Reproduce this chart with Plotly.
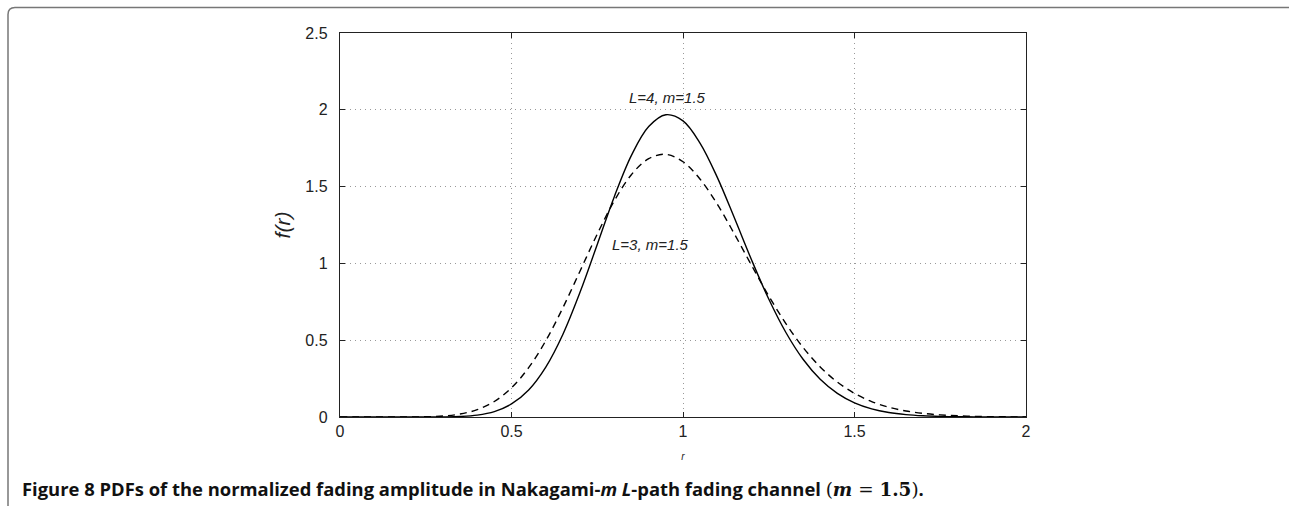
import plotly.graph_objects as go

# Values
r_vals = [0.00, 0.05, 0.10, 0.15, 0.20, 0.25, 0.30, 0.35, 0.40, 0.45, 0.50,
          0.55, 0.60, 0.65, 0.70, 0.75, 0.80, 0.85, 0.90, 0.95, 1.00,
          1.05, 1.10, 1.15, 1.20, 1.25, 1.30, 1.35, 1.40, 1.45, 1.50,
          1.55, 1.60, 1.65, 1.70, 1.75, 1.80, 1.85, 1.90, 1.95, 2.00]
f_L4 = [0.0, 0.0, 0.0, 0.0, 0.0, 0.0001, 0.0008, 0.0036, 0.0125, 0.0353, 0.0848,
        0.176, 0.325, 0.539, 0.813, 1.123, 1.436, 1.705, 1.891, 1.968, 1.928,
        1.782, 1.560, 1.295, 1.022, 0.768, 0.550, 0.376, 0.246, 0.154, 0.0922,
        0.0530, 0.0292, 0.0155, 0.0079, 0.0038, 0.0018, 0.0008, 0.0004, 0.0002, 0.0001]
f_L3 = [0.0, 0.0, 0.0, 0.0, 0.0003, 0.0017, 0.0065, 0.0194, 0.0477, 0.101, 0.190,
        0.321, 0.497, 0.712, 0.951, 1.191, 1.409, 1.579, 1.682, 1.710, 1.662,
        1.548, 1.385, 1.191, 0.987, 0.788, 0.608, 0.453, 0.326, 0.2275, 0.1536,
        0.1005, 0.0638, 0.0393, 0.0235, 0.0136, 0.0077, 0.0042, 0.0022, 0.0012, 0.0006]
x_ticks = [0, 0.5, 1, 1.5, 2]
x_tick_text = ["0", "0.5", "1", "1.5", "2"]
y_ticks = [0, 0.5, 1, 1.5, 2, 2.5]
y_tick_text = ["0", "0.5", "1", "1.5", "2", "2.5"]

W, H = 1291, 506
ML, MR, MT, MB = 340, 265, 33, 89
PW, PH = W - ML - MR, H - MT - MB

def px(x):
    return (x - ML) / PW

def py(y):
    return (H - MB - y) / PH

fig = go.Figure()
fig.add_trace(go.Scatter(x=r_vals, y=f_L4, mode="lines", line_shape="spline",
                         line=dict(color="black", width=1.4), name="L=4, m=1.5",
                         showlegend=False))
fig.add_trace(go.Scatter(x=r_vals, y=f_L3, mode="lines", line_shape="spline",
                         line=dict(color="black", width=1.4, dash="7px,5px"),
                         name="L=3, m=1.5", showlegend=False))

axis_common = dict(showline=True, linecolor="#222", linewidth=1.4, mirror="ticks",
                   ticks="inside", ticklen=5, tickcolor="#222", tickwidth=1,
                   showgrid=True, gridcolor="#999", griddash="1px,4px", gridwidth=1,
                   zeroline=False, tickfont=dict(family="Liberation Sans, Arial", size=16, color="#222"))

fig.update_xaxes(range=[0, 2], tickvals=x_ticks, ticktext=x_tick_text,
                 title=dict(text="<i>r</i>", font=dict(family="Liberation Sans", size=10, color="#222"),
                            standoff=13),
                 **axis_common)
fig.update_yaxes(range=[0, 2.5], tickvals=y_ticks, ticktext=y_tick_text,
                 ticklabelstandoff=8,
                 title=dict(text="<i>f(r)</i>", font=dict(family="Liberation Sans", size=21, color="#222"),
                            standoff=8),
                 **axis_common)

fig.add_annotation(x=0.955, y=2.0, xref="x", yref="y", text="<i>L=4, m=1.5</i>",
                   showarrow=False, yanchor="bottom", yshift=2,
                   font=dict(family="Liberation Sans", size=15, color="#222"))
fig.add_annotation(x=0.905, y=1.12, xref="x", yref="y", text="<i>L=3, m=1.5</i>",
                   showarrow=False,
                   font=dict(family="Liberation Sans", size=15, color="#222"))

caption = ("<b>Figure 8</b> <b>PDFs of the normalized fading amplitude in Nakagami-<i>m</i> "
           "<i>L</i>-path fading channel </b><span style=\"font-family:'DejaVu Serif'\">(<b><i>m</i></b> = <b>1.5</b>)</span><b>.</b>")
fig.add_annotation(x=px(20), y=py(488), xref="paper", yref="paper", text=caption,
                   showarrow=False, xanchor="left", yanchor="middle", align="left",
                   font=dict(family="Open Sans", size=18.4, color="#111"))

# Frame around figure (top + left with rounded corner)
x0, y0, rad = 8, 7.5, 7
path = (f"M {px(x0)},{py(H + 5)} L {px(x0)},{py(y0 + rad)} "
        f"Q {px(x0)},{py(y0)} {px(x0 + rad)},{py(y0)} L {px(1289)},{py(y0)}")
fig.add_shape(type="path", path=path, xref="paper", yref="paper",
              line=dict(color="#777", width=1.5))

fig.update_layout(width=W, height=H, margin=dict(l=ML, r=MR, t=MT, b=MB),
                  plot_bgcolor="white", paper_bgcolor="white", showlegend=False)

fig.write_html("out.html")
